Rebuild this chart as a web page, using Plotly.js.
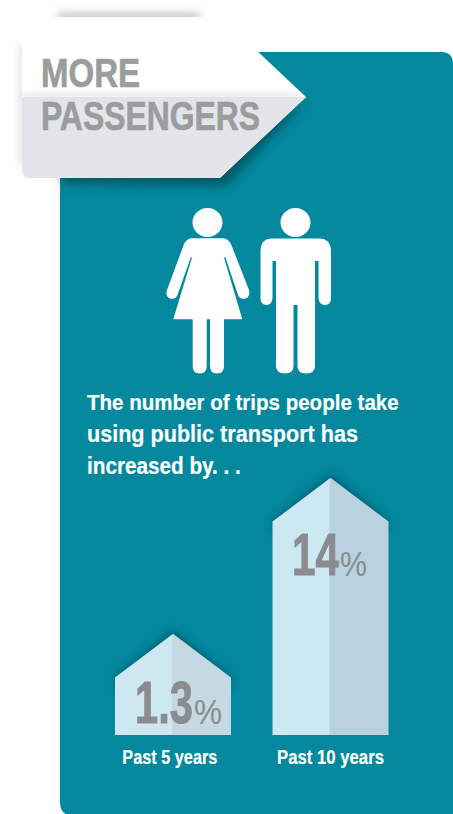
<!DOCTYPE html>
<html>
<head>
<meta charset="utf-8">
<script src="https://cdn.plot.ly/plotly-3.0.1.min.js"></script>
<style>
  html, body { margin: 0; padding: 0; background: #fff; overflow: hidden; }
  #chart { width: 453px; height: 814px; }
</style>
</head>
<body>
<div id="chart"></div>
<script>
// Growth in public transport trips
const categories = ['Past 5 years', 'Past 10 years'];
const growthPct = [1.3, 14];
const headingLines = ['MORE', 'PASSENGERS'];
const introLines = [
  'The number of trips people take',
  'using public transport has',
  'increased by. . .'
];

const W = 453, H = 814;
const BASE_PX = 735;              // pixel row of the bars' base
const PX_PER_PCT = 12.28;         // vertical scale of the growth axis
const Y_MIN = -6.92;              // growth axis value at the base of the bars
const Y_MAX = Y_MIN + BASE_PX / PX_PER_PCT;
const CENTER0 = 173, STEP = 157.5;
const X_MIN = -CENTER0 / STEP, X_MAX = (W - CENTER0) / STEP;
const HALF = 57 / STEP;           // half width of an arrow
const ROOF = 44 / PX_PER_PCT;     // height of an arrow's pointed roof
const PX = 1 / PX_PER_PCT;

const FONT = '"Liberation Sans", Arial, sans-serif';
const TEAL = '#03889e';
const GREY = '#8b8b91';
const HEADING_GREY = '#9a9c9e';

// Pixel-space path -> page fractions
const pagePath = s => s.replace(/(-?[\d.]+) (-?[\d.]+)/g,
  (m, x, y) => `${(x / W).toFixed(5)},${(1 - y / H).toFixed(5)}`);
const pageShape = (d, fill) => ({
  type: 'path', xref: 'paper', yref: 'paper', layer: 'below',
  path: pagePath(d), fillcolor: fill, line: { width: 0 }
});
const head = (cx, cy, rx, ry) => ({
  type: 'circle', xref: 'paper', yref: 'paper', layer: 'below',
  x0: (cx - rx) / W, x1: (cx + rx) / W,
  y0: 1 - (cy + ry) / H, y1: 1 - (cy - ry) / H,
  fillcolor: '#fff', line: { width: 0 }
});

// Half arrows, each walled up from the axis base to the value it stands for
function halfArrow(i, value, side) {
  const edge = i + side * HALF, mid = i;
  return {
    x: [mid, edge, edge, mid, mid],
    y: [Y_MIN, Y_MIN, value - ROOF, value - PX, Y_MIN]
  };
}
const leftFill = ['#cde8f1', '#cce8f2'];
const rightFill = ['#c4d9e2', '#b9d3de'];
const traces = [];
growthPct.forEach((v, i) => {
  [[-1, leftFill[i]], [1, rightFill[i]]].forEach(([side, color]) => {
    const p = halfArrow(i, v, side);
    traces.push({
      type: 'scatter', mode: 'lines', x: p.x, y: p.y, fill: 'toself',
      fillcolor: color, line: { color: color, width: 2 }, hoverinfo: 'skip'
    });
  });
});

// Soft shadows under each arrow's roof
const roofShadows = growthPct.map((v, i) => ({
  type: 'path', xref: 'x', yref: 'y', layer: 'below',
  path: `M ${i - HALF},${v - ROOF + 2 * PX} L ${i},${v + 4 * PX} L ${i + HALF},${v - ROOF + 2 * PX} ` +
        `L ${i + HALF},${v - ROOF - 10 * PX} L ${i - HALF},${v - ROOF - 10 * PX} Z`,
  fillcolor: 'rgba(0,62,78,0.55)', line: { width: 0 }
}));

const pageShapes = [
  // panel
  pageShape('M 60 52 L 441 52 Q 453 52 453 64 L 453 816 L 74 816 Q 60 816 60 802 Z', TEAL),
  // ribbon shadows
  pageShape('M 307 100 L 226 186 L 62 184 L 62 172 L 220 150 Z', 'rgba(0,58,72,0.6)'),
  pageShape('M 58 14 L 200 14 L 200 19 L 58 19 Z', 'rgba(120,120,120,0.7)'),
  pageShape('M 20 45 L 24 45 L 24 165 L 20 165 Z', 'rgba(170,170,175,0.45)'),
  // ribbon
  pageShape('M 26 17 L 221 17 L 306 97 L 220 178 L 30 178 Q 22 178 22 170 L 22 21 Q 22 17 26 17 Z', '#ffffff'),
  pageShape('M 22 97 L 306 97 L 220 178 L 30 178 Q 22 178 22 170 Z', '#e4e5e8'),
  pageShape('M 22 93 L 298 93 L 302 97 L 22 97 Z', 'rgba(215,216,220,0.6)'),
  // woman
  pageShape('M 192 238.3 L 222.5 238.3 Q 228 238.3 231 244 L 249 290 Q 250.5 296 246 298.5 Q 240 300 238 295 ' +
    'L 225.5 257.5 L 224 257.5 L 242.3 319.3 L 224 319.3 L 224 366 Q 224 373.5 217 373.5 Q 210 373.5 210 366 ' +
    'L 210 319.3 L 206.7 319.3 L 206.7 366 Q 206.7 373.5 199.7 373.5 Q 192.7 373.5 192.7 366 L 192.7 319.3 ' +
    'L 173.3 319.3 L 192 257.5 L 190.7 257.5 L 177.5 295 Q 175 300 170 298.5 Q 165 296 167 290 L 184 244 ' +
    'Q 187 238.3 192 238.3 Z', '#ffffff'),
  head(207.5, 222.5, 15, 14.5),
  // man
  pageShape('M 272 238.5 L 319 238.5 Q 331 238.5 331 252 L 331 298 Q 331 305 325 305 Q 319 305 318.5 298 ' +
    'L 318.5 261 L 315 261 L 315 366 Q 315 373.5 306 373.5 Q 297.5 373.5 297.5 366 L 297.5 305 L 293.5 305 ' +
    'L 293.5 366 Q 293.5 373.5 285 373.5 Q 276 373.5 276 366 L 276 261 L 272.5 261 L 272.5 298 Q 272 305 266.5 305 ' +
    'Q 260.5 305 260.5 298 L 260.5 252 Q 260.5 238.5 272 238.5 Z', '#ffffff'),
  head(295.5, 222.5, 15, 14.5)
];

// Blur radius for each shape, keyed by its position in the shapes list
const blurBy = { 1: 5, 2: 4, 3: 3, 6: 2 };
const shapes = pageShapes.concat(roofShadows);
shapes.forEach((s, i) => { if (i >= pageShapes.length) blurBy[i] = 4; });

// The installed faces have no condensed cut, so each run of text is
// narrowed to its set width once drawn, with a hairline to thicken it.
const annotations = [];
const textStyle = [];
const pageText = (text, x, baseline, size, color, width, hairline) => {
  annotations.push({
    text: text, xref: 'paper', yref: 'paper', x: x / W, y: 1 - baseline / H,
    xanchor: 'left', yanchor: 'bottom', align: 'left', showarrow: false, borderpad: 0,
    font: { family: FONT, size: size, color: color, weight: 700 }
  });
  textStyle.push({ width, color, hairline });
};

const headingWidths = [99, 219];
headingLines.forEach((t, i) => pageText(t, 40, 96 + i * 43, 40, HEADING_GREY, headingWidths[i], 0.7));
const introWidths = [312, 271, 154];
introLines.forEach((t, i) => pageText(t, 86, 416 + i * 32, 23, '#ffffff', introWidths[i], 0.2));

// Value labels hang from the top of their arrows
const valueDrop = [91, 99];
const digitWidths = [58, 47];
const percentWidths = [28, 27];
const valueLabel = (text, i, dx, size, weight, width, hairline) => {
  annotations.push({
    text: text, xref: 'x', yref: 'y', x: i + dx / STEP, y: growthPct[i],
    yshift: -(valueDrop[i] + 0.2 * size),
    xanchor: 'left', yanchor: 'bottom', align: 'left', showarrow: false, borderpad: 0,
    font: { family: FONT, size: size, color: GREY, weight: weight }
  });
  textStyle.push({ width, color: GREY, hairline });
};
growthPct.forEach((v, i) => {
  valueLabel(String(v), i, -39.5, 59, 700, digitWidths[i], 1);
  valueLabel('%', i, -38.5 + digitWidths[i], 35, 400, percentWidths[i], 0);
});

const tickWidths = [95, 107];

const layout = {
  width: W, height: H,
  margin: { l: 0, r: 0, t: 0, b: 0, pad: 0 },
  paper_bgcolor: '#ffffff', plot_bgcolor: 'rgba(0,0,0,0)',
  showlegend: false,
  xaxis: {
    range: [X_MIN, X_MAX], tickmode: 'array', tickvals: [-0.02, 1], ticktext: categories,
    ticks: 'outside', ticklen: 4, tickcolor: 'rgba(0,0,0,0)', showgrid: false, zeroline: false,
    showline: false, fixedrange: true, automargin: false,
    tickfont: { family: FONT, size: 20, color: '#ffffff', weight: 700 }
  },
  yaxis: {
    domain: [(H - BASE_PX) / H, 1], range: [Y_MIN, Y_MAX], visible: false, fixedrange: true
  },
  shapes: shapes,
  annotations: annotations
};

const thicken = (el, color, w) => {
  if (!w) return;
  el.style.stroke = color;
  el.style.strokeWidth = w + 'px';
};
// Horizontal scale about the text's own anchor
const narrow = (el, width) => {
  const x = +el.getAttribute('x') || 0;
  const sx = width / el.getComputedTextLength();
  el.setAttribute('transform', `translate(${x} 0) scale(${sx} 1) translate(${-x} 0)`);
};

Plotly.newPlot('chart', traces, layout, { displayModeBar: false, staticPlot: true }).then(gd => {
  gd.querySelectorAll('.shapelayer path').forEach(p => {
    const r = blurBy[+p.getAttribute('data-index')];
    if (r) p.style.filter = `blur(${r}px)`;
  });
  gd.querySelectorAll('.annotation').forEach(a => {
    const st = textStyle[+a.getAttribute('data-index')];
    const t = a.querySelector('text');
    if (!t) return;
    narrow(t, st.width);
    thicken(t, st.color, st.hairline);
  });
  gd.querySelectorAll('.xtick text').forEach((t, i) => {
    t.setAttribute('textLength', tickWidths[i]);
    t.setAttribute('lengthAdjust', 'spacingAndGlyphs');
    thicken(t, '#ffffff', 0.2);
  });
});
</script>
</body>
</html>
